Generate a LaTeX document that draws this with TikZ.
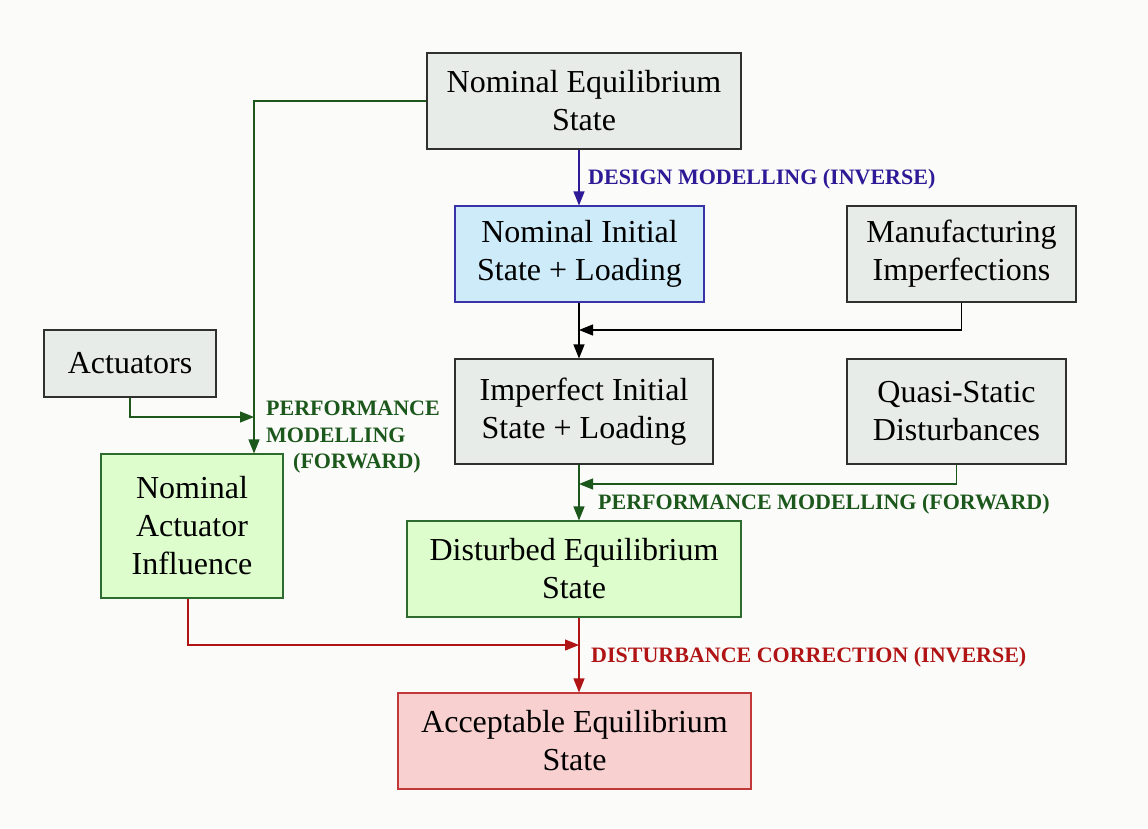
\documentclass[tikz,border=0pt]{standalone}
\usepackage{fontspec}
\setmainfont{Liberation Serif}
\usetikzlibrary{arrows.meta,calc}
\definecolor{bgc}{HTML}{FBFBF9}
\definecolor{greyfill}{HTML}{E8ECE8}
\definecolor{greyline}{HTML}{303030}
\definecolor{bluefill}{HTML}{CDEBF8}
\definecolor{blueline}{HTML}{3A33A8}
\definecolor{greenfill}{HTML}{DDFDCC}
\definecolor{greenline}{HTML}{2E6B2E}
\definecolor{pinkfill}{HTML}{F9D0D0}
\definecolor{pinkline}{HTML}{C03838}
\definecolor{fwd}{HTML}{1C581C}
\definecolor{inv}{HTML}{2E1A96}
\definecolor{corr}{HTML}{B01414}
\tikzset{
  boxbase/.style={draw, line width=1.1pt, align=center, inner sep=0pt,
    font=\fontsize{32}{38}\selectfont},
  greybox/.style={boxbase, fill=greyfill, draw=greyline},
  bluebox/.style={boxbase, fill=bluefill, draw=blueline},
  greenbox/.style={boxbase, fill=greenfill, draw=greenline},
  pinkbox/.style={boxbase, fill=pinkfill, draw=pinkline},
  conn/.style={line width=1.1pt, -{Triangle[length=14pt,width=11pt]}},
  lab/.style={font=\fontsize{22}{27}\selectfont\bfseries, anchor=west, inner sep=0pt}
}
\begin{document}
\begin{tikzpicture}[x=1pt,y=-1pt]
\fill[bgc] (0,0) rectangle (1148,828);
\useasboundingbox (0,0) rectangle (1148,828);

% boxes
\node[greybox, minimum width=314pt, minimum height=96pt] (ne) at (584,101) {Nominal Equilibrium\\State};
\node[bluebox, minimum width=249pt, minimum height=96pt] (ni) at (579.5,254) {Nominal Initial\\State + Loading};
\node[greybox, minimum width=229pt, minimum height=96pt] (mi) at (961.5,254) {Manufacturing\\Imperfections};
\node[greybox, minimum width=172pt, minimum height=67pt] (act) at (130,363.5) {Actuators};
\node[greybox, minimum width=258pt, minimum height=105pt] (ii) at (584,411.5) {Imperfect Initial\\State + Loading};
\node[greybox, minimum width=219pt, minimum height=105pt] (qs) at (956.5,411.5) {Quasi-Static\\Disturbances};
\node[greenbox, minimum width=182pt, minimum height=144pt] (nai) at (192,526) {Nominal\\Actuator\\Influence};
\node[greenbox, minimum width=334pt, minimum height=96pt] (de) at (574,569) {Disturbed Equilibrium\\State};
\node[pinkbox, minimum width=353pt, minimum height=96pt] (ae) at (574.5,741) {Acceptable Equilibrium\\State};

% junction points on the connectors
\coordinate (spine) at (579,0);
\coordinate (jact) at (254,417);
\coordinate (jmi) at (579,330);
\coordinate (jqs) at (579,484);
\coordinate (jnai) at (579,645);

% main chain
\draw[conn, inv] (ne.south -| spine) -- (ni.north -| spine);
\draw[conn, black] (ni.south -| spine) -- (ii.north -| spine);
\draw[conn, fwd] (ii.south -| spine) -- (de.north -| spine);
\draw[conn, corr] (de.south -| spine) -- (ae.north -| spine);

% side inputs
\draw[conn, black] (mi.south) |- (jmi);
\draw[conn, fwd] (qs.south) |- (jqs);
\draw[conn, fwd] (ne.west) -| ([xshift=62pt]nai.north);
\draw[conn, fwd] (act.south) |- (jact);
\draw[conn, corr] ([xshift=-4pt]nai.south) |- (jnai);

% labels
\node[lab, text=inv] (l1) at (588,179) {DESIGN MODELLING (INVERSE)};
\node[lab, text=fwd] (l2) at (598,504) {PERFORMANCE MODELLING (FORWARD)};
\node[lab, text=corr] (l3) at (591,657) {DISTURBANCE CORRECTION (INVERSE)};
\node[lab, text=fwd] (l4a) at (266,408) {PERFORMANCE};
\node[lab, text=fwd] (l4b) at (266,435.5) {MODELLING};
\node[lab, text=fwd] (l4c) at (293,463) {(FORWARD)};
\end{tikzpicture}
\end{document}
